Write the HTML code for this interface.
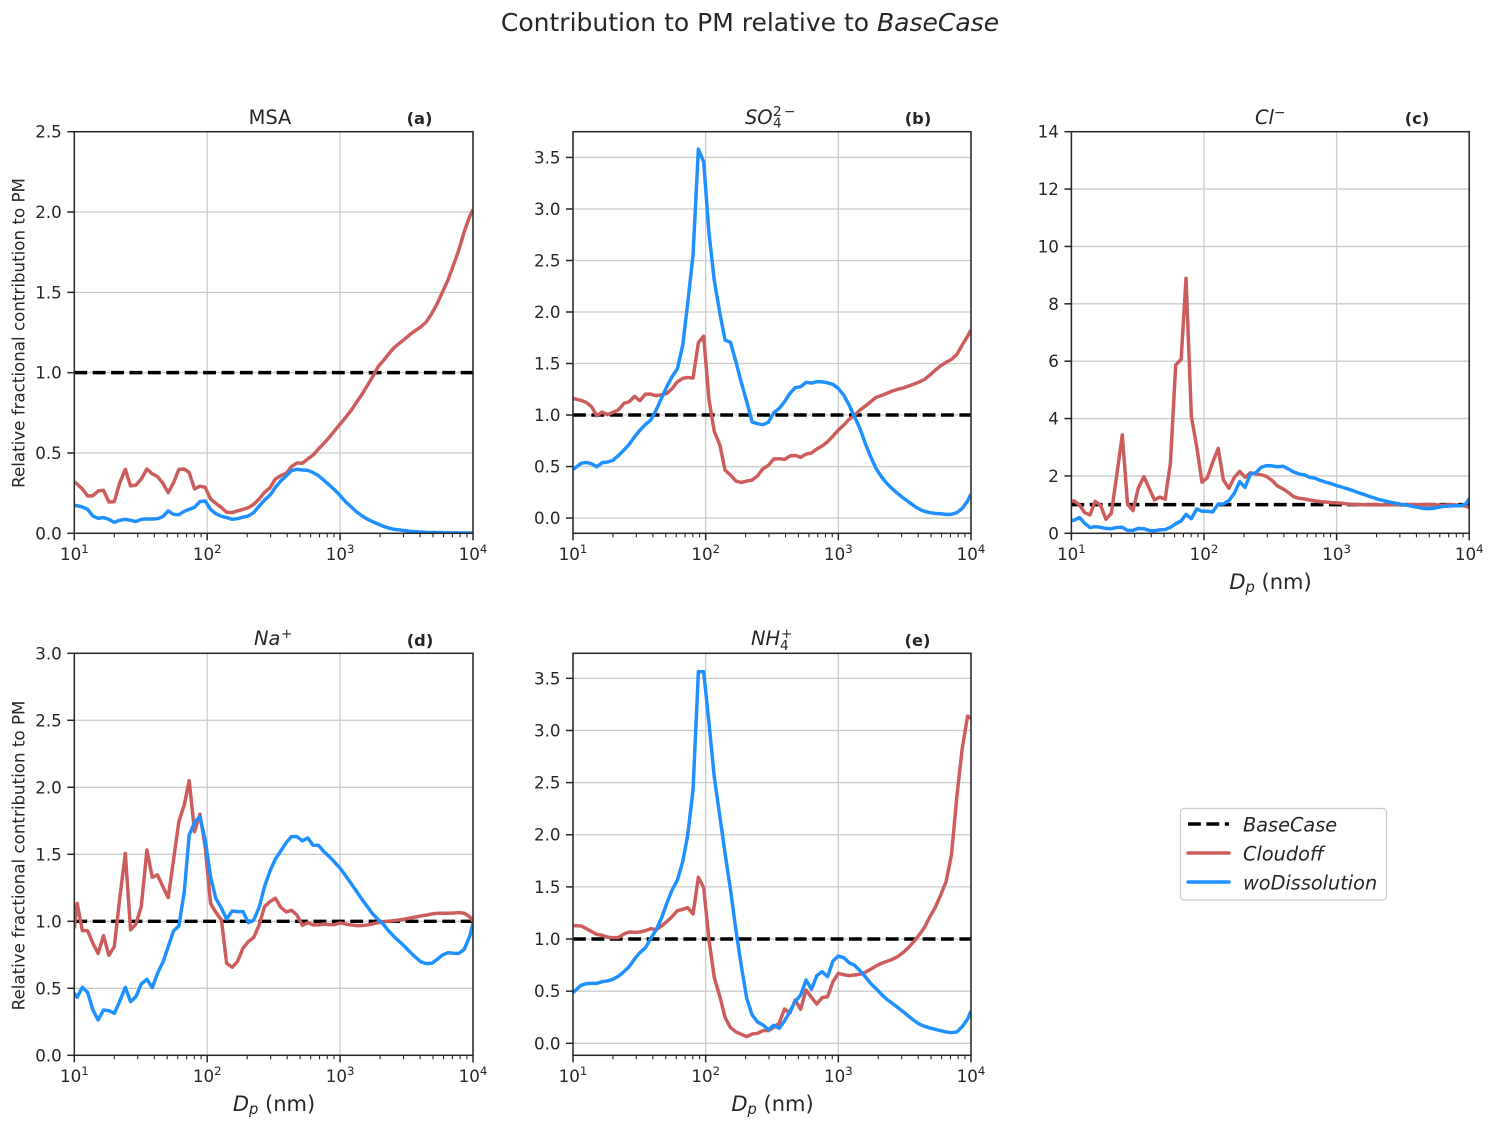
<!DOCTYPE html>
<html lang="en">
<head>
<meta charset="utf-8">
<title>Contribution to PM relative to BaseCase</title>
<style>
html,body{margin:0;padding:0;background:#fff;width:1498px;height:1130px;overflow:hidden}
svg{display:block}
text{font-family:"DejaVu Sans","Liberation Sans",sans-serif;fill:#262626}
.it{font-style:italic}
</style>
</head>
<body>
<svg id="figure" xmlns="http://www.w3.org/2000/svg" width="1498" height="1130" viewBox="0 0 1498 1130">
<rect x="0" y="0" width="1498" height="1130" fill="#ffffff"/>
<text x="750" y="31" text-anchor="middle" font-size="25">Contribution to PM relative to <tspan class="it">BaseCase</tspan></text>

<text x="270" y="124" text-anchor="middle" font-size="19.4">MSA</text>
<text x="419.5" y="124" text-anchor="middle" font-size="16.3" font-weight="bold">(a)</text>
<text y="124" font-size="19.4"><tspan class="it" x="745">SO</tspan><tspan x="773" y="127.5" font-size="13.6">4</tspan><tspan x="773" y="116" font-size="13.6">2</tspan><tspan x="784" y="116" font-size="13.6">−</tspan></text>
<text x="918" y="124" text-anchor="middle" font-size="16.3" font-weight="bold">(b)</text>
<text y="124" font-size="19.4"><tspan class="it" x="1255">Cl</tspan><tspan x="1274" y="117" font-size="13.6">−</tspan></text>
<text x="1417" y="124" text-anchor="middle" font-size="16.3" font-weight="bold">(c)</text>
<text y="645" font-size="19.4"><tspan class="it" x="254">Na</tspan><tspan x="281" y="638" font-size="13.6">+</tspan></text>
<text x="420" y="646" text-anchor="middle" font-size="16.3" font-weight="bold">(d)</text>
<text y="645" font-size="19.4"><tspan class="it" x="751">NH</tspan><tspan x="780" y="650" font-size="13.6">4</tspan><tspan x="781" y="638" font-size="13.6">+</tspan></text>
<text x="917.5" y="646" text-anchor="middle" font-size="16.3" font-weight="bold">(e)</text>

<text transform="translate(24.5,333) rotate(-90)" text-anchor="middle" font-size="16.7">Relative fractional contribution to PM</text>
<text transform="translate(24.5,855.5) rotate(-90)" text-anchor="middle" font-size="16.7">Relative fractional contribution to PM</text>

<text x="1270.5" y="589" text-anchor="middle" font-size="21"><tspan class="it">D</tspan><tspan class="it" dy="3" font-size="14.7">p</tspan><tspan dy="-3"> (nm)</tspan></text>
<text x="274" y="1111" text-anchor="middle" font-size="21"><tspan class="it">D</tspan><tspan class="it" dy="3" font-size="14.7">p</tspan><tspan dy="-3"> (nm)</tspan></text>
<text x="772.5" y="1111" text-anchor="middle" font-size="21"><tspan class="it">D</tspan><tspan class="it" dy="3" font-size="14.7">p</tspan><tspan dy="-3"> (nm)</tspan></text>

<g>
<rect x="1180.5" y="808.5" width="206" height="91.5" rx="3.5" ry="3.5" fill="#ffffff" stroke="#cccccc" stroke-width="1.2"/>
<line x1="1188" y1="824" x2="1229" y2="824" stroke="#000000" stroke-width="3.47" stroke-dasharray="12.85 5.55"/>
<text class="it" x="1243" y="831.7" font-size="19.3">BaseCase</text>
<line x1="1188" y1="853" x2="1229" y2="853" stroke="#cd5c5c" stroke-width="3.47" stroke-linecap="round"/>
<text class="it" x="1243" y="860.7" font-size="19.3">Cloudoff</text>
<line x1="1188" y1="882" x2="1229" y2="882" stroke="#1e90ff" stroke-width="3.47" stroke-linecap="round"/>
<text class="it" x="1243" y="889.7" font-size="19.3">woDissolution</text>
</g>
</svg>

<script>
// Particle diameters (nm) shared by all series
const diameters = [
10,10.5,11.5,12.6,13.8,15.1,16.6,18.2,20,21.9,
24.2,26.5,29.1,31.9,35.2,38.6,42.3,46.4,50.9,55.8,
61.2,67.2,73.2,80.3,88.1,96.6,106,116,128,140,
154,169,186,204,224,246,270,297,326,358,
393,431,473,520,571,627,688,755,830,911,
1000,1098,1206,1324,1454,1596,1752,1924,2113,2320,
2547,2797,3071,3371,3702,4064,4463,4900,5380,5907,
6486,7122,7820,8586,9428,10000];

const cloudoffMSA = [
.32,.307,.276,.232,.234,.263,.268,.195,.197,.311,
.398,.295,.30,.338,.40,.37,.353,.311,.253,.315,
.398,.40,.378,.276,.293,.286,.214,.187,.16,.131,
.129,.139,.149,.16,.18,.214,.255,.284,.338,.359,
.373,.415,.438,.436,.463,.488,.525,.56,.598,.639,
.68,.72,.763,.813,.863,.917,.973,1.035,1.075,1.116,
1.156,1.183,1.21,1.239,1.263,1.286,1.317,1.369,1.43,1.504,
1.577,1.67,1.763,1.878,1.971,2.017];
const woDissolutionMSA = [
.174,.172,.164,.149,.108,.093,.098,.087,.068,.081,
.087,.081,.073,.087,.089,.089,.091,.104,.139,.118,
.116,.137,.149,.162,.197,.201,.149,.122,.106,.098,
.087,.091,.10,.108,.129,.17,.207,.237,.286,.326,
.357,.39,.398,.394,.392,.378,.359,.33,.30,.27,
.235,.197,.166,.135,.11,.089,.073,.058,.044,.033,
.025,.021,.017,.012,.01,.008,.006,.005,.004,.004,
.003,.003,.003,.002,.002,.002];

const cloudoffSO4 = [
1.161,1.155,1.142,1.123,1.08,.993,1.029,1.003,1.026,1.048,
1.113,1.129,1.181,1.139,1.203,1.203,1.187,1.197,1.21,1.255,
1.323,1.356,1.365,1.359,1.702,1.766,1.145,.844,.708,.466,
.417,.359,.346,.359,.369,.408,.479,.511,.573,.576,
.569,.602,.608,.589,.621,.631,.67,.699,.741,.796,
.854,.903,.958,.996,1.048,1.087,1.129,1.171,1.19,1.21,
1.233,1.249,1.262,1.281,1.30,1.32,1.346,1.388,1.436,1.478,
1.511,1.54,1.588,1.679,1.766,1.825];
const woDissolutionSO4 = [
.472,.492,.531,.54,.527,.498,.537,.544,.56,.605,
.66,.715,.789,.851,.909,.951,1.048,1.161,1.275,1.372,
1.449,1.679,2.083,2.553,3.581,3.458,2.763,2.31,1.986,1.728,
1.705,1.517,1.313,1.129,.932,.916,.906,.929,1.022,1.064,
1.129,1.21,1.265,1.275,1.317,1.31,1.323,1.323,1.313,1.297,
1.258,1.194,1.097,.983,.87,.725,.595,.482,.401,.336,
.285,.239,.197,.159,.12,.087,.065,.052,.045,.042,
.036,.036,.052,.094,.165,.233];

const cloudoffCl = [
1.115,1.127,.988,.72,.639,1.115,.976,.488,.697,1.975,
3.43,1.022,.79,1.568,1.975,1.568,1.162,1.266,1.185,2.44,
5.87,6.06,8.89,4.07,3.02,1.78,1.94,2.46,2.96,1.86,
1.57,1.94,2.16,1.95,2.11,2.07,2.04,1.98,1.84,1.65,
1.55,1.43,1.28,1.22,1.20,1.16,1.13,1.10,1.09,1.07,
1.06,1.05,1.02,1.01,1.0,1.0,.99,1.0,.99,.99,
1.0,1.0,.98,.99,1.0,1.0,1.0,1.01,1.01,.98,
.98,1.0,.99,.96,.95,.90];
const woDissolutionCl = [
.44,.46,.55,.35,.2,.23,.21,.17,.16,.2,
.21,.10,.1,.17,.16,.1,.09,.12,.13,.21,
.33,.43,.66,.51,.85,.77,.77,.74,1.02,1.02,
1.14,1.39,1.80,1.60,2.07,2.11,2.30,2.36,2.35,2.32,
2.34,2.25,2.14,2.07,2.04,1.95,1.92,1.84,1.78,1.73,
1.66,1.61,1.55,1.49,1.42,1.36,1.29,1.23,1.17,1.13,
1.08,1.05,1.01,.98,.94,.91,.87,.86,.87,.91,
.94,.95,.96,.96,1.02,1.21];

const cloudoffNa = [
.948,1.134,.93,.93,.836,.76,.893,.746,.811,1.16,
1.507,.935,.98,1.11,1.532,1.328,1.346,1.259,1.177,1.458,
1.744,1.868,2.05,1.669,1.80,1.557,1.134,1.067,1.01,.687,
.657,.70,.80,.848,.88,.973,1.11,1.147,1.172,1.104,
1.07,1.082,1.047,.97,.99,.973,.973,.98,.975,.975,
.988,.98,.973,.968,.968,.973,.98,.99,.998,1.0,
1.005,1.01,1.017,1.025,1.032,1.04,1.047,1.055,1.06,1.06,
1.06,1.062,1.065,1.06,1.035,.998];
const woDissolutionNa = [
.463,.433,.507,.47,.338,.264,.338,.333,.313,.40,
.507,.40,.438,.532,.567,.505,.612,.694,.811,.928,
.965,1.221,1.644,1.739,1.781,1.607,1.333,1.172,1.097,1.017,
1.077,1.072,1.072,.99,1.01,1.104,1.259,1.376,1.465,1.525,
1.587,1.632,1.632,1.6,1.622,1.567,1.567,1.52,1.483,1.44,
1.396,1.341,1.284,1.226,1.167,1.112,1.057,1.015,.978,.928,
.886,.848,.811,.769,.731,.697,.684,.687,.716,.749,
.766,.761,.761,.791,.886,.985];

const cloudoffNH4 = [
1.128,1.128,1.125,1.10,1.071,1.045,1.035,1.019,1.013,1.013,
1.048,1.067,1.064,1.067,1.08,1.10,1.087,1.125,1.167,1.214,
1.272,1.285,1.301,1.24,1.592,1.492,.991,.633,.447,.249,
.15,.109,.086,.064,.089,.096,.121,.121,.153,.192,
.329,.288,.415,.326,.511,.441,.377,.438,.447,.591,
.671,.658,.649,.655,.662,.681,.71,.741,.767,.786,
.805,.831,.869,.917,.975,1.039,1.112,1.214,1.304,1.422,
1.55,1.806,2.365,2.828,3.138,3.116];
const woDissolutionNH4 = [
.486,.511,.556,.572,.575,.575,.591,.598,.614,.642,
.687,.735,.809,.869,.917,1.007,1.087,1.198,1.342,1.47,
1.566,1.742,1.997,2.429,3.563,3.563,3.068,2.557,2.173,1.822,
1.47,1.087,.735,.431,.272,.205,.176,.131,.173,.144,
.214,.304,.40,.463,.607,.518,.649,.687,.639,.789,
.837,.821,.773,.748,.697,.639,.575,.524,.47,.422,
.384,.345,.304,.262,.221,.185,.163,.147,.134,.121,
.109,.102,.109,.16,.233,.31];

// Reference level (BaseCase) and axis ticks
const baseCaseLevel = [1, 1];
const baseCaseRange = [10, 10000];
const xMajorTicks = [10, 100, 1000, 10000];
const xMajorExponents = ["1", "2", "3", "4"];
const xMinorMultipliers = [2, 3, 4, 5, 6, 7, 8, 9];
const yTicksMSA = [0, 0.5, 1, 1.5, 2, 2.5];
const yTicksSO4 = [0, 0.5, 1, 1.5, 2, 2.5, 3, 3.5];
const yTicksCl = [0, 2, 4, 6, 8, 10, 12, 14];
const yTicksNa = [0, 0.5, 1, 1.5, 2, 2.5, 3];
const yTicksNH4 = [0, 0.5, 1, 1.5, 2, 2.5, 3, 3.5];

const panels = [
  {id:'a', left:74.3, right:473, top:131.7, bottom:533.3, yMin:0, yMax:2.5, yTicks:yTicksMSA, dec:1, red:cloudoffMSA, blue:woDissolutionMSA},
  {id:'b', left:573, right:971, top:131.7, bottom:533.3, yMin:-0.148, yMax:3.75, yTicks:yTicksSO4, dec:1, red:cloudoffSO4, blue:woDissolutionSO4},
  {id:'c', left:1071.4, right:1469.2, top:131.7, bottom:533.3, yMin:0, yMax:14, yTicks:yTicksCl, dec:0, red:cloudoffCl, blue:woDissolutionCl},
  {id:'d', left:74.3, right:473, top:653.3, bottom:1055.3, yMin:0, yMax:3, yTicks:yTicksNa, dec:1, red:cloudoffNa, blue:woDissolutionNa},
  {id:'e', left:573, right:971, top:653.3, bottom:1055.3, yMin:-0.115, yMax:3.74, yTicks:yTicksNH4, dec:1, red:cloudoffNH4, blue:woDissolutionNH4}
];

const NS = 'http://www.w3.org/2000/svg';
const fig = document.getElementById('figure');

function mk(tag, parent, attrs) {
  const el = document.createElementNS(NS, tag);
  for (const k in attrs) el.setAttribute(k, attrs[k]);
  parent.appendChild(el);
  return el;
}

function drawPanel(p) {
  const xScale = function (d) { return p.left + (Math.log10(d) - 1) / 3 * (p.right - p.left); };
  const yScale = function (v) { return p.bottom - (v - p.yMin) / (p.yMax - p.yMin) * (p.bottom - p.top); };

  const g = mk('g', fig, {});
  
  

  const clip = mk('clipPath', g, {id: 'clip-' + p.id});
  mk('rect', clip, {x: p.left, y: p.top, width: p.right - p.left, height: p.bottom - p.top});

  // grid
  p.yTicks.forEach(function (t) {
    const gl = mk('line', g, {x1: p.left, x2: p.right, y1: yScale(t), y2: yScale(t), stroke: '#cccccc', 'stroke-width': 1.3});
    
    
  });
  xMajorTicks.forEach(function (t) {
    const gl = mk('line', g, {x1: xScale(t), x2: xScale(t), y1: p.top, y2: p.bottom, stroke: '#cccccc', 'stroke-width': 1.3});
    
    
  });

  // series
  const base = mk('line', g, {x1: xScale(baseCaseRange[0]), x2: xScale(baseCaseRange[1]), y1: yScale(baseCaseLevel[0]), y2: yScale(baseCaseLevel[1]), stroke: '#000000', 'stroke-width': 3.47, 'stroke-dasharray': '12.85 5.55', 'clip-path': 'url(#clip-' + p.id + ')'});
  
  

  const redPts = p.red.map(function (v, i) { return xScale(diameters[i]).toFixed(2) + ',' + yScale(v).toFixed(2); }).join(' ');
  const red = mk('polyline', g, {points: redPts, fill: 'none', stroke: '#cd5c5c', 'stroke-width': 3.47, 'stroke-linejoin': 'round', 'clip-path': 'url(#clip-' + p.id + ')'});
  
  

  const bluePts = p.blue.map(function (v, i) { return xScale(diameters[i]).toFixed(2) + ',' + yScale(v).toFixed(2); }).join(' ');
  const blue = mk('polyline', g, {points: bluePts, fill: 'none', stroke: '#1e90ff', 'stroke-width': 3.47, 'stroke-linejoin': 'round', 'clip-path': 'url(#clip-' + p.id + ')'});
  
  

  // ticks + labels
  p.yTicks.forEach(function (t) {
    const y = yScale(t);
    const tk = mk('line', g, {x1: p.left - 7, x2: p.left, y1: y, y2: y, stroke: '#262626', 'stroke-width': 1.5});
    
    
    const lb = mk('text', g, {x: p.left - 12.5, y: y + 6, 'text-anchor': 'end', 'font-size': 16.7});
    
    
    lb.textContent = t.toFixed(p.dec);
  });
  xMajorTicks.forEach(function (t, i) {
    const x = xScale(t);
    const tk = mk('line', g, {x1: x, x2: x, y1: p.bottom, y2: p.bottom + 7, stroke: '#262626', 'stroke-width': 1.5});
    
    
    const lb = mk('text', g, {x: x, y: p.bottom + 26.5, 'text-anchor': 'middle', 'font-size': 16.7});
    
    
    lb.textContent = '10';
    const sup = mk('tspan', lb, {dy: -7, 'font-size': 11.7});
    sup.textContent = xMajorExponents[i];
    if (i < 3) {
      xMinorMultipliers.forEach(function (m) {
        const mx = xScale(t * m);
        const mt = mk('line', g, {x1: mx, x2: mx, y1: p.bottom, y2: p.bottom + 4, stroke: '#262626', 'stroke-width': 1.1});
        
        
      });
    }
  });

  // spines
  const frame = mk('rect', g, {x: p.left, y: p.top, width: p.right - p.left, height: p.bottom - p.top, fill: 'none', stroke: '#262626', 'stroke-width': 1.5});
  
  
}

panels.forEach(drawPanel);
</script>
</body>
</html>
